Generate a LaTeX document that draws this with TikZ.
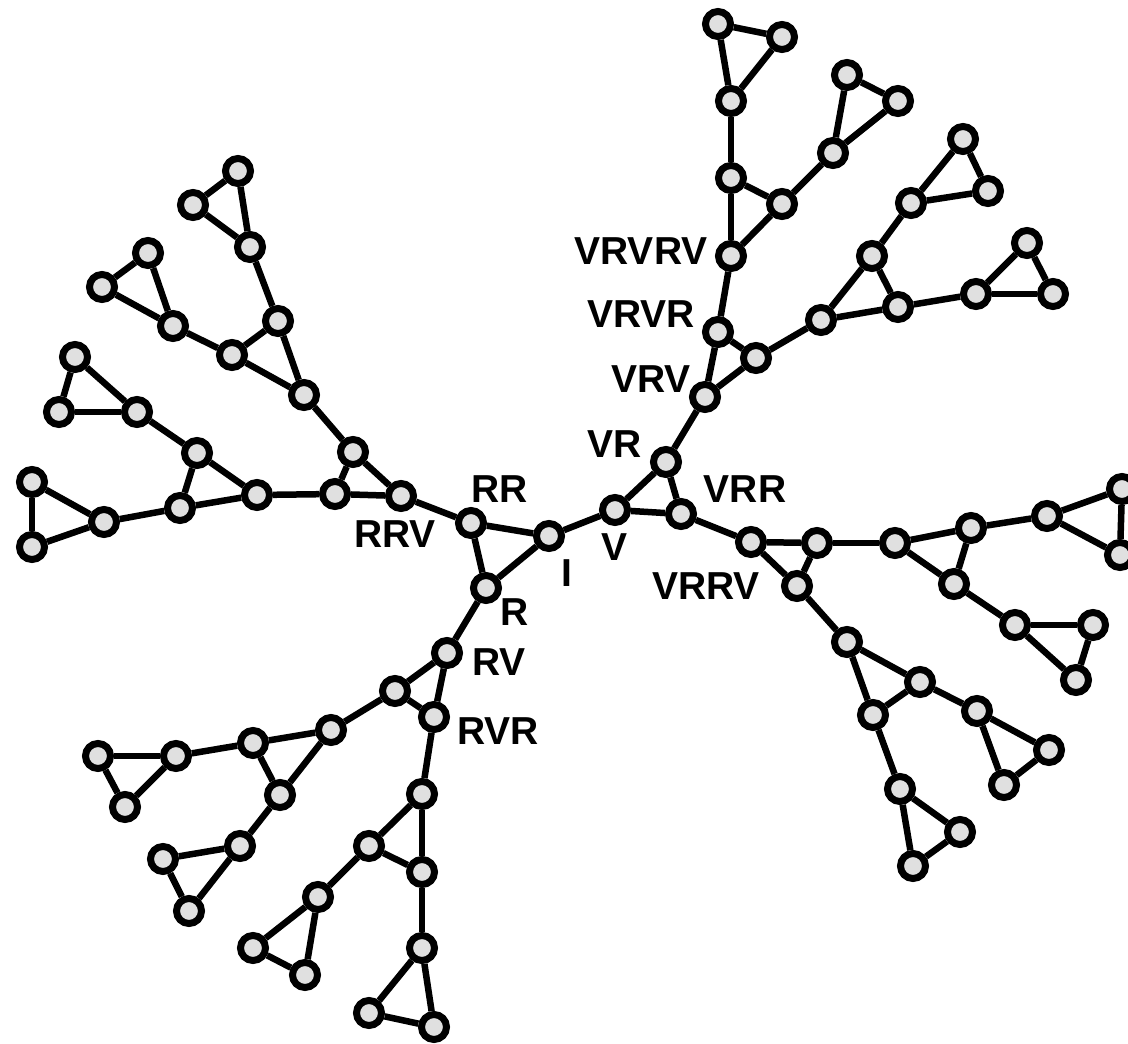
\documentclass[tikz,border=0pt]{standalone}
\usepackage{fontspec}
\setmainfont{Liberation Sans}
\usetikzlibrary{backgrounds}
\definecolor{nodegray}{HTML}{E0E0E0}
\tikzset{
  vtx/.style={circle, draw=black, fill=nodegray, line width=7pt, minimum size=25pt, inner sep=0pt},
  edge/.style={line width=6.5pt, draw=black},
  lbl/.style={inner sep=0pt, font=\fontsize{39}{39}\selectfont\bfseries}
}
\begin{document}
\begin{tikzpicture}[x=1pt,y=-1pt]
\useasboundingbox (0,0) rectangle (1128,1044);
% nodes
\foreach \n/\x/\y in {
  I/549/536, V/615/510, RR/471/523, R/486/588, RRV/401/496, VR/666/462, VRR/681/514,
  VRV/705/397, RV/447/653, RVR/434/717, G1/395/691, VRVR/718/332, N/756/358,
  VRVRV/731/256, VRRV/751/542,
  A1/718/24, A2/782/37, A3/731/101, A4/731/178, A5/782/204, A6/833/153, A7/847/75, A8/898/101,
  B1/821/320, B2/872/256, B3/898/307, B4/911/203, B5/963/139, B6/988/191, B7/976/294, B8/1027/243, B9/1053/294,
  C1/817/543, C2/797/586, C3/895/543, C4/971/528, C5/954/584, C6/1047/516, C7/1122/489, C8/1120/555,
  C9/1015/625, C10/1093/625, C11/1076/680,
  D1/847/642, D2/920/682, D3/873/715, D4/977/711, D5/1049/750, D6/1004/785, D7/900/789, D8/960/832, D9/913/866,
  E1/335/494, E2/353/452, E3/257/495, E4/197/453, E5/180/508, E6/137/412, E7/75/357, E8/59/412,
  E9/104/522, E10/32/482, E11/32/547,
  F1/304/395, F2/278/321, F3/232/355, F4/173/326, F5/148/253, F6/102/287, F7/250/247, F8/238/171, F9/193/205,
  G2/331/730, G3/253/743, G4/280/795, G5/176/756, G6/98/756, G7/125/807, G8/240/846, G9/163/859, G10/189/911,
  H1/422/794, H2/369/846, H3/422/872, H4/318/897, H5/253/948, H6/305/975, H7/422/948, H8/369/1013, H9/434/1027}
  \node[vtx] (\n) at (\x,\y) {};
% edges
\begin{pgfonlayer}{background}
\foreach \a/\b in {
  I/V, I/RR, I/R, RR/R, V/VR, V/VRR, VR/VRR,
  VR/VRV, VRV/VRVR, VRV/N, VRVR/N, VRVR/VRVRV, VRVRV/A4, VRVRV/A5, A4/A5, A4/A3,
  A3/A1, A3/A2, A1/A2, A5/A6, A6/A7, A6/A8, A7/A8,
  N/B1, B1/B2, B1/B3, B2/B3, B2/B4, B4/B5, B4/B6, B5/B6, B3/B7, B7/B8, B7/B9, B8/B9,
  VRR/VRRV, VRRV/C1, VRRV/C2, C1/C2, C1/C3, C3/C4, C3/C5, C4/C5, C4/C6, C6/C7, C6/C8, C7/C8,
  C5/C9, C9/C10, C9/C11, C10/C11,
  C2/D1, D1/D2, D1/D3, D2/D3, D2/D4, D4/D5, D4/D6, D5/D6, D3/D7, D7/D8, D7/D9, D8/D9,
  RR/RRV, RRV/E1, RRV/E2, E1/E2, E1/E3, E3/E4, E3/E5, E4/E5, E5/E9, E9/E10, E9/E11, E10/E11,
  E4/E6, E6/E7, E6/E8, E7/E8,
  E2/F1, F1/F2, F1/F3, F2/F3, F3/F4, F4/F5, F4/F6, F5/F6, F2/F7, F7/F8, F7/F9, F8/F9,
  R/RV, RV/G1, RV/RVR, G1/RVR, G1/G2, G2/G3, G2/G4, G3/G4, G3/G5, G5/G6, G5/G7, G6/G7,
  G4/G8, G8/G9, G8/G10, G9/G10,
  RVR/H1, H1/H2, H1/H3, H2/H3, H2/H4, H4/H5, H4/H6, H5/H6, H3/H7, H7/H8, H7/H9, H8/H9}
  \draw[edge] (\a) -- (\b);
\end{pgfonlayer}
% labels
\node[lbl] (tRR) at (500,489) {RR};
\node[lbl] (tRRV) at (395,534) {RRV};
\node[lbl] (tI) at (567,573) {I};
\node[lbl] (tR) at (515,612) {R};
\node[lbl] (tV) at (615,547) {V};
\node[lbl] (tVR) at (615,444) {VR};
\node[lbl] (tVRR) at (745,489) {VRR};
\node[lbl] (tVRRV) at (706,586) {VRRV};
\node[lbl] (tRV) at (499,662) {RV};
\node[lbl] (tRVR) at (498,731) {RVR};
\node[lbl] (tVRV) at (651,379) {VRV};
\node[lbl] (tVRVR) at (641,314) {VRVR};
\node[lbl] (tVRVRV) at (641,251) {VRVRV};
\end{tikzpicture}
\end{document}
